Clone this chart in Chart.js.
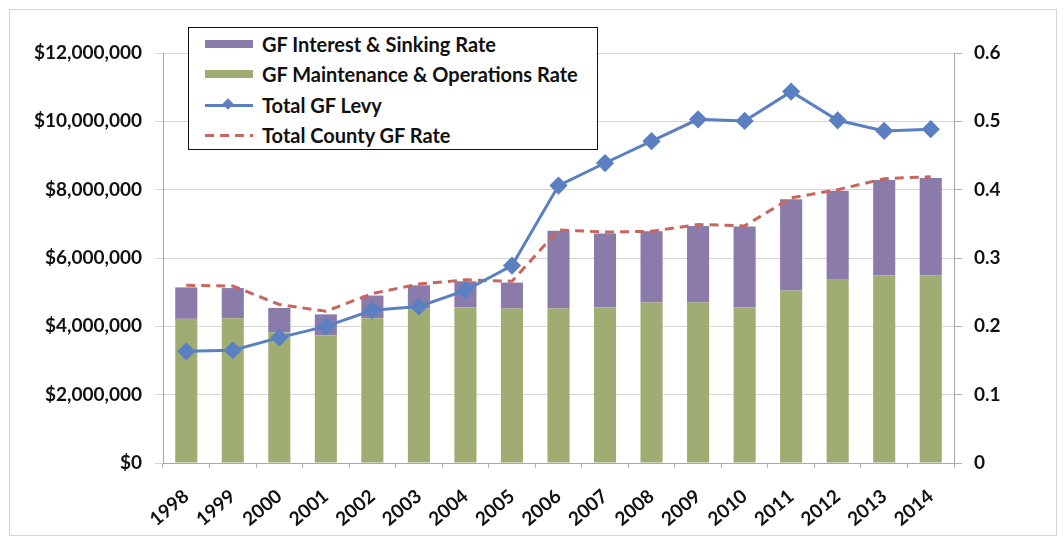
<!DOCTYPE html>
<html>
<head>
<meta charset="utf-8">
<script src="https://cdn.jsdelivr.net/npm/chart.js@4"></script>
<style>
  html, body { margin: 0; padding: 0; background: #fff; }
  #wrap { position: relative; width: 1064px; height: 545px; }
  #frame { position: absolute; left: 9px; top: 9px; width: 1048px; height: 527px; border: 1px solid #d4d4d4; box-sizing: border-box; pointer-events: none; }
  canvas { position: absolute; left: 0; top: 0; }
  #legend { position: absolute; left: 188px; top: 27px; width: 410px; height: 123px; box-sizing: border-box;
    border: 1.5px solid #111; background: #fff; font-family: Lato, "DejaVu Sans", sans-serif; font-weight: bold; font-size: 20px; color: #111; }
  .item { position: absolute; left: 16px; height: 22px; display: flex; align-items: center; }
  .sw { width: 48px; height: 22px; position: relative; margin-right: 9px; }
  .box { position: absolute; left: 0; top: 7px; width: 48px; height: 8px; }
  .ln { position: absolute; left: 0; top: 9.5px; width: 48px; height: 3px; }
  .dia { position: absolute; left: 19px; top: 6px; width: 8px; height: 8px; transform: rotate(45deg); background: #5b80c2; }
  .dash { position: absolute; left: 0; top: 9.5px; width: 48px; height: 3px;
    background: repeating-linear-gradient(90deg, #c9655a 0 9px, transparent 9px 15px); }
</style>
</head>
<body>
<div id="wrap">
  <canvas id="c" width="1064" height="545"></canvas>
  <div id="frame"></div>
  <div id="legend">
    <div class="item" style="top:5px"><div class="sw"><div class="box" style="background:#8a7bab"></div></div>GF Interest &amp; Sinking Rate</div>
    <div class="item" style="top:35px"><div class="sw"><div class="box" style="background:#a0ad72"></div></div>GF Maintenance &amp; Operations Rate</div>
    <div class="item" style="top:66px"><div class="sw"><div class="ln" style="background:#5b80c2"></div><div class="dia"></div></div>Total GF Levy</div>
    <div class="item" style="top:96px"><div class="sw"><div class="dash"></div></div>Total County GF Rate</div>
  </div>
</div>
<script>
const years = ["1998","1999","2000","2001","2002","2003","2004","2005","2006","2007","2008","2009","2010","2011","2012","2013","2014"];
const moRate = [0.211,0.212,0.191,0.187,0.212,0.226,0.228,0.226,0.226,0.228,0.235,0.235,0.228,0.2525,0.268,0.2745,0.2745];
const isRate = [0.046,0.044,0.036,0.0305,0.033,0.034,0.038,0.038,0.114,0.108,0.104,0.112,0.118,0.1335,0.1305,0.1395,0.1425];
const totalRate = [0.26,0.259,0.232,0.222,0.248,0.262,0.268,0.266,0.341,0.338,0.339,0.349,0.347,0.388,0.40,0.416,0.419];
const totalLevy = [3270000,3300000,3670000,4000000,4470000,4580000,5050000,5780000,8120000,8780000,9420000,10060000,10010000,10870000,10030000,9720000,9770000];
const levyTicks = [0,2000000,4000000,6000000,8000000,10000000,12000000];
const rateTicks = [0,0.1,0.2,0.3,0.4,0.5,0.6];

const tickFont = { family: "Lato, 'DejaVu Sans', sans-serif", weight: "bold", size: 19 };
const fmtMoney = v => "$" + Math.round(v).toLocaleString("en-US");

new Chart(document.getElementById("c"), {
  data: {
    labels: years,
    datasets: [
      { type: "line", label: "Total GF Levy", data: totalLevy, yAxisID: "y", order: 1,
        borderColor: "#5b80c2", backgroundColor: "#5b80c2", borderWidth: 3,
        pointStyle: "rectRot", pointRadius: 7, pointHoverRadius: 7, tension: 0 },
      { type: "line", label: "Total County GF Rate", data: totalRate, yAxisID: "yR", order: 2,
        borderColor: "#c9655a", borderWidth: 3, borderDash: [9, 6], pointRadius: 0, tension: 0, fill: false },
      { type: "bar", label: "GF Maintenance & Operations Rate", data: moRate, yAxisID: "yR", stack: "s", order: 3,
        backgroundColor: "#a0ad72", barPercentage: 0.95, categoryPercentage: 0.5 },
      { type: "bar", label: "GF Interest & Sinking Rate", data: isRate, yAxisID: "yR", stack: "s", order: 4,
        backgroundColor: "#8a7bab", barPercentage: 0.95, categoryPercentage: 0.5 }
    ]
  },
  options: {
    responsive: false,
    animation: false,
    layout: { padding: { top: 53, left: 0, right: 0, bottom: 0 } },
    plugins: { legend: { display: false }, tooltip: { enabled: false } },
    scales: {
      x: {
        stacked: true,
        grid: { offset: true, drawOnChartArea: false, drawTicks: true, tickLength: 5, color: "#b0b0b0" },
        border: { color: "#a8a8a8" },
        ticks: { font: { family: "Lato, 'DejaVu Sans', sans-serif", weight: "bold", size: 19 }, color: "#111", minRotation: 40, maxRotation: 40, padding: 17 },
        afterFit: s => { s.height = 82; }
      },
      y: {
        position: "left", min: 0, max: 12000000,
        afterBuildTicks: s => { s.ticks = levyTicks.map(v => ({ value: v })); },
        grid: { color: "#d6d6d6", tickLength: 8, drawTicks: true },
        border: { color: "#a8a8a8" },
        ticks: { font: tickFont, color: "#111", padding: 13, callback: v => fmtMoney(v) },
        afterFit: s => { s.width = 163; }
      },
      yR: {
        position: "right", min: 0, max: 0.6, stacked: true,
        afterBuildTicks: s => { s.ticks = rateTicks.map(v => ({ value: v })); },
        grid: { drawOnChartArea: false, tickLength: 8, color: "#b0b0b0" },
        border: { color: "#a8a8a8" },
        ticks: { font: tickFont, color: "#111", padding: 12, callback: v => String(Math.round(v * 10) / 10) },
        afterFit: s => { s.width = 110; }
      }
    }
  }
});
</script>
</body>
</html>
